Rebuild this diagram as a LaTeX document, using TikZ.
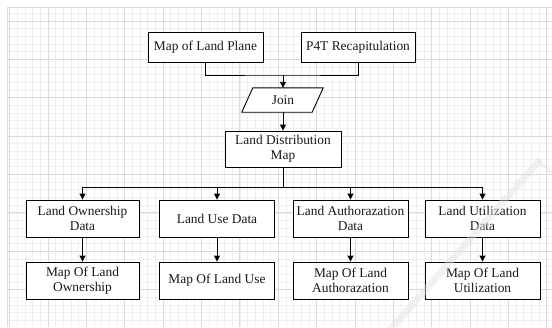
\documentclass[tikz,border=0pt]{standalone}
\usepackage{fontspec}
\setmainfont{Liberation Serif}
\usetikzlibrary{arrows.meta}
\definecolor{gridminor}{HTML}{EFEFEF}
\definecolor{gridmajor}{HTML}{DADADA}
\definecolor{wmark}{HTML}{E2E2E2}
\tikzset{
  box/.style={draw=black, line width=0.9pt, fill=white, rectangle, align=center,
    font=\fontsize{13.4}{15}\selectfont, text=black!90, inner sep=1pt},
  conn/.style={line width=0.9pt, draw=black},
  arr/.style={conn, -{Triangle[length=6pt,width=6pt]}},
}
\begin{document}
\begin{tikzpicture}[x=1pt,y=-1pt]
\useasboundingbox (0,0) rectangle (552,327);
\fill[white] (0,0) rectangle (552,327);
% grid
\begin{scope}
\clip (7,7) rectangle (552,327);
\foreach \i in {-1,...,72} {
  \draw[gridminor, line width=0.5pt] ({9.67+7.67*\i},7) -- ({9.67+7.67*\i},327);
}
\foreach \i in {-2,...,42} {
  \draw[gridminor, line width=0.5pt] (7,{21+7.67*\i}) -- (552,{21+7.67*\i});
}
\foreach \i in {-1,...,14} {
  \draw[gridmajor, line width=0.6pt] ({48+38.35*\i},7) -- ({48+38.35*\i},327);
  \draw[gridmajor, line width=0.6pt] (7,{21+38.35*\i}) -- (552,{21+38.35*\i});
}
\draw[gridmajor, line width=0.6pt] (7,327) -- (7,7) -- (552,7);
\end{scope}

% top row
\node[box, minimum width=115pt, minimum height=30pt] (mlp) at (205.5,47) {Map of Land Plane};
\node[box, minimum width=114pt, minimum height=30pt] (p4t) at (358,47) {P4T Recapitulation};
\coordinate (jn) at (283,75);
\node[minimum width=70pt, minimum height=24pt, inner sep=0pt] (join) at (283,100) {};
\draw[conn, fill=white, line join=miter]
  ([xshift=5pt]join.north west) -- ([xshift=5pt]join.north east) --
  ([xshift=-6pt]join.south east) -- ([xshift=-6pt]join.south west) -- cycle;
\node[font=\fontsize{13.4}{15}\selectfont, text=black!90] (jointext) at (join.center) {Join};
\draw[conn] (mlp.south) |- (jn) -| (p4t.south);
\draw[arr] (jn) -- (join.north);

\node[box, minimum width=116pt, minimum height=36pt] (ldm) at (283,149) {Land Distribution\\Map};
\draw[arr] (join.south) -- (ldm.north);

% second row
\node[box, minimum width=113pt, minimum height=37pt] (own) at (82.5,218.5) {Land Ownership\\Data};
\node[box, minimum width=115pt, minimum height=37pt] (use) at (217,218.5) {Land Use Data};
\node[box, minimum width=115pt, minimum height=37pt] (aut) at (350.5,218.5) {Land Authorazation\\Data};
\node[box, minimum width=115pt, minimum height=37pt] (uti) at (482.5,218.5) {Land Utilization\\Data};

\coordinate (bus) at (283,187);
\draw[conn] (ldm.south) -- (bus);
\draw[conn] (own.north |- bus) -- (uti.north |- bus);
\foreach \n in {own,use,aut,uti} {
  \draw[arr] (\n.north |- bus) -- (\n.north);
}

% third row
\node[box, minimum width=113pt, minimum height=37pt] (mown) at (82.5,280.5) {Map Of Land\\Ownership};
\node[box, minimum width=115pt, minimum height=37pt] (muse) at (217,280.5) {Map Of Land Use};
\node[box, minimum width=115pt, minimum height=37pt] (maut) at (350.5,280.5) {Map Of Land\\Authorazation};
\node[box, minimum width=115pt, minimum height=37pt] (muti) at (482.5,280.5) {Map Of Land\\Utilization};

\draw[arr] (own) -- (mown);
\draw[arr] (use) -- (muse);
\draw[arr] (aut) -- (maut);
\draw[arr] (uti) -- (muti);

% faint watermark
\draw[wmark, line width=7pt, opacity=0.45] (390,330) -- (540,160);
\draw[wmark, line width=3pt, opacity=0.45] (538,160) -- (552,173);
\end{tikzpicture}
\end{document}
